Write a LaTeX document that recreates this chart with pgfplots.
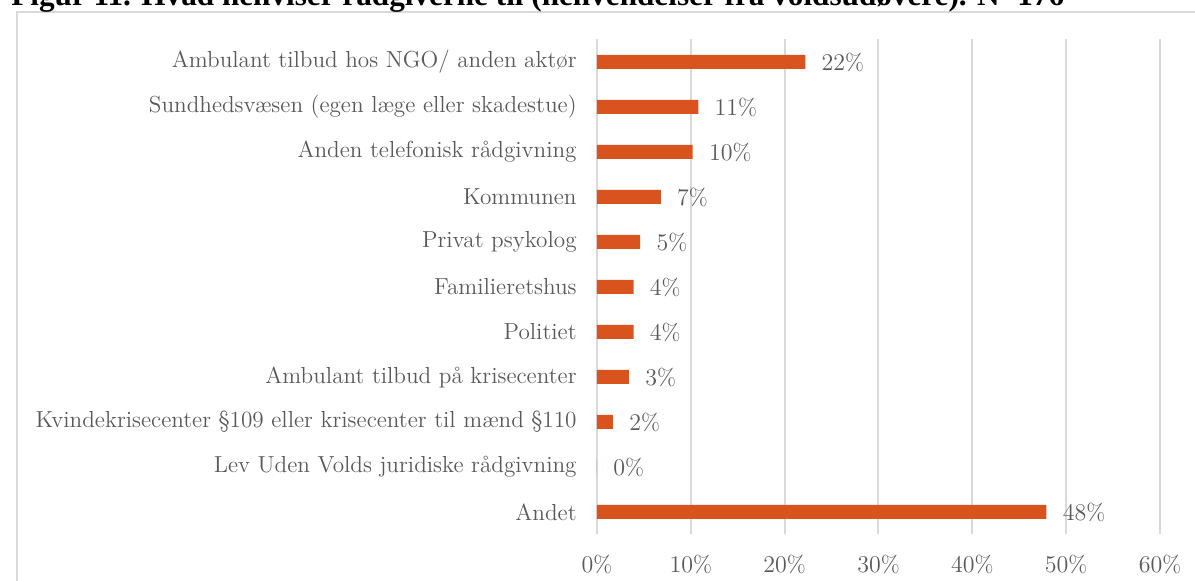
\documentclass[border=0pt]{standalone}
\usepackage{fontspec}
\newfontfamily\titlefont{Liberation Serif}
\usepackage{pgfplots}
\pgfplotsset{compat=1.18}
\definecolor{barc}{RGB}{217,83,30}
\definecolor{txt}{RGB}{89,89,89}
\definecolor{grd}{RGB}{217,217,217}

\begin{document}
\begin{tikzpicture}
% picture is 1195x581 px at 0.5pt per px
\path[use as bounding box, clip] (0,0) rectangle (597.5pt,290.5pt);
\draw[grd, line width=1pt] (8.5pt,-5pt) -- (8.5pt,284.5pt) -- (605pt,284.5pt);
\node[anchor=base west, inner sep=0pt, font=\titlefont\bfseries\fontsize{15.6}{17}\selectfont]
  at (5.5pt,287.5pt) {Figur 11. Hvad henviser rådgiverne til (henvendelser fra voldsudøvere). N=176};
\begin{axis}[
at={(298.5pt,23.25pt)}, anchor=south west,
width=281.5pt, height=247.5pt, scale only axis,
xmin=0, xmax=60, ymin=-0.5, ymax=10.5,
y dir=reverse,
xbar, bar width=7pt,
axis line style={draw=none},
major tick length=0pt,
xmajorgrids, grid style={grd, line width=1pt},
xtick={0,10,...,60},
xticklabel={\pgfmathprintnumber{\tick}\%},
ytick={0,...,10},
yticklabels={Ambulant tilbud hos NGO/ anden aktør,
  Sundhedsvæsen (egen læge eller skadestue),
  Anden telefonisk rådgivning,
  Kommunen,
  Privat psykolog,
  Familieretshus,
  Politiet,
  Ambulant tilbud på krisecenter,
  Kvindekrisecenter §109 eller krisecenter til mænd §110,
  Lev Uden Volds juridiske rådgivning,
  Andet},
ticklabel style={font=\fontsize{11.6}{13}\selectfont, text=txt, inner sep=0pt},
yticklabel style={xshift=-10pt},
xticklabel style={yshift=-10pt},
point meta=x,
nodes near coords={\pgfmathprintnumber[fixed,precision=0]{\pgfplotspointmeta}\%},
nodes near coords style={anchor=west, inner sep=0pt, xshift=8pt, text=txt, font=\fontsize{11.6}{13}\selectfont},
]
\addplot[fill=barc, draw=none] coordinates {(22.2,0) (10.8,1) (10.2,2) (6.8,3) (4.6,4) (3.9,5) (3.9,6) (3.4,7) (1.7,8) (0,9) (47.9,10)};
\end{axis}
\end{tikzpicture}
\end{document}
